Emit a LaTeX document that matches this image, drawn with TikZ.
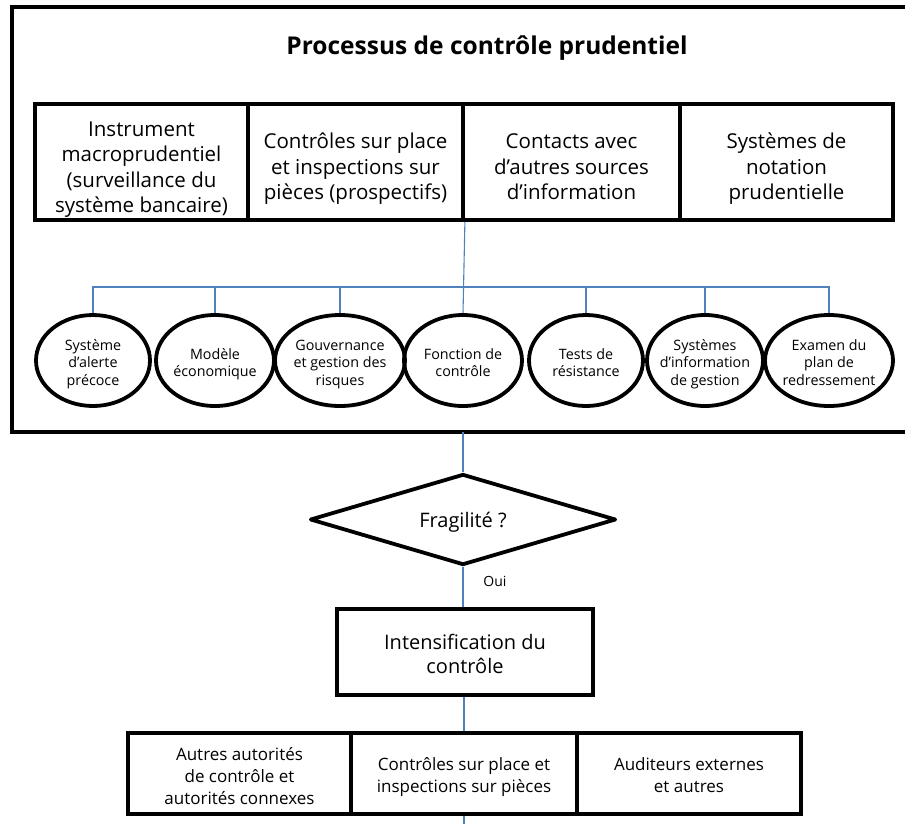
\documentclass[tikz,border=0pt]{standalone}
\usepackage{fontspec}
\setmainfont{Open Sans}
\usetikzlibrary{shapes.geometric}
\definecolor{linkblue}{RGB}{79,129,189}
\begin{document}
\begin{tikzpicture}[x=1pt,y=-1pt,
  box/.style={draw, line width=3.8pt, rectangle, inner sep=1pt, align=center, text depth=0pt},
  ell/.style={draw, line width=3.8pt, ellipse, inner xsep=-6pt, inner ysep=0pt, align=center, minimum height=91pt,
    font=\fontsize{14.3}{17.5}\selectfont, text depth=0pt},
  ell3/.style={ell, text height=49pt},
  ell2/.style={ell, text height=32pt},
  conn/.style={draw=linkblue, line width=1.1pt},
  toptxt/.style={font=\fontsize{20.5}{25.5}\selectfont},
  top4/.style={toptxt, text height=101pt},
  top3/.style={toptxt, text height=75pt},
  bottxt/.style={font=\fontsize{17}{22}\selectfont},
  bot3/.style={bottxt, text height=61pt},
  bot2/.style={bottxt, text height=37pt},
]
\useasboundingbox (0,0) rectangle (905,823);
% frame
\coordinate (fTR) at (915,7);
\coordinate (fTL) at (11.5,7);
\coordinate (fBL) at (11.5,432);
\coordinate (fBR) at (915,432);
\draw[line width=4pt] (fTR) -- (fTL) -- (fBL) -- (fBR);
\node[font=\bfseries\fontsize{24.5}{30}\selectfont] (title) at (487,48.5) {Processus de contrôle prudentiel};
% top row
\node[box, top4, minimum width=213pt, minimum height=116.5pt] (t1) at (141.5,162) {Instrument\\macroprudentiel\\(surveillance du\\système bancaire)};
\node[box, top3, minimum width=215pt, minimum height=116.5pt] (t2) at (355.5,162) {Contrôles sur place\\et inspections sur\\pièces (prospectifs)};
\node[box, top3, minimum width=217pt, minimum height=116.5pt] (t3) at (571.5,162) {Contacts avec\\d’autres sources\\d’information};
\node[box, top3, minimum width=213pt, minimum height=116.5pt] (t4) at (786.5,162) {Systèmes de\\notation\\prudentielle};
% ellipses
\node[ell3, minimum width=114pt] (e1) at (93,360.5) {Système\\d’alerte\\précoce};
\node[ell2, minimum width=118pt] (e2) at (215,360.5) {Modèle\\économique};
\node[ell3, minimum width=130pt] (e3) at (340,360.5) {Gouvernance\\et gestion des\\risques};
\node[ell2, minimum width=118pt] (e4) at (463,360.5) {Fonction de\\contrôle};
\node[ell2, minimum width=114pt] (e5) at (586,360.5) {Tests de\\résistance};
\node[ell3, minimum width=116pt] (e6) at (705,360.5) {Systèmes\\d’information\\de gestion};
\node[ell3, minimum width=128pt] (e7) at (829,360.5) {Examen du\\plan de\\redressement};
% bus
\coordinate (bus) at (463,287);
\draw[conn] (t2.south east) -- (e4.north);
\draw[conn] (e1.north) -- (e1.north |- bus) -- (e7.north |- bus) -- (e7.north);
\foreach \i in {2,3,5,6} \draw[conn] (e\i.north) -- (e\i.north |- bus);
% lower flow
\node[draw, diamond, shape aspect=3.4, line width=3.8pt, line join=round, minimum width=306pt, minimum height=91pt, inner sep=0pt,
  font=\fontsize{20}{24}\selectfont, text height=15pt, text depth=0pt] (dia) at (463,519.5) {Fragilité ?};
\node[box, font=\fontsize{20}{24}\selectfont, text height=43pt, minimum width=256pt, minimum height=86pt] (int) at (465,652) {Intensification du\\contrôle};
\node[box, bot3, minimum width=223pt, minimum height=81pt] (b1) at (239.5,773.5) {Autres autorités\\ de contrôle et\\autorités connexes};
\node[box, bot2, minimum width=226pt, minimum height=81pt] (b2) at (464,773.5) {Contrôles sur place et\\inspections sur pièces};
\node[box, bot2, minimum width=224pt, minimum height=81pt] (b3) at (689,773.5) {Auditeurs externes\\et autres};
\coordinate (fb) at (463,432);
\coordinate (tail) at (464,830);
\draw[conn] (fb) -- (dia.north);
\draw[conn] (dia.south) -- (dia.south |- int.north);
\draw[conn] (int.south -| b2.north) -- (b2.north);
\draw[conn] (b2.south) -- (tail);
\node[font=\fontsize{14}{16}\selectfont] (oui) at (495,581) {Oui};
\end{tikzpicture}
\end{document}
